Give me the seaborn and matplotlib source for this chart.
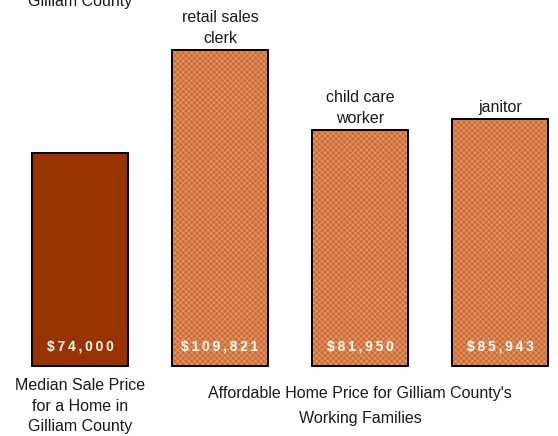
import matplotlib
matplotlib.use("Agg")
import matplotlib.pyplot as plt
from matplotlib.patches import Rectangle
import seaborn as sns
import pandas as pd

# datos del grafico
categorias = ["Median Sale Price", "retail sales clerk", "child care worker", "janitor"]
valores = [74000, 109821, 81950, 85943]
etiquetas_arriba = ["", "retail sales\nclerk", "child care\nworker", "janitor"]
texto_mediana = "Median Sale Price\nfor a Home in\nGilliam County"
texto_familias = "Affordable Home Price for Gilliam County's\nWorking Families"
texto_cortado = "Gilliam County"

colores = ["#993300", "#CF6D38", "#CF6D38", "#CF6D38"]

sns.set_style("white")
plt.rcParams["font.family"] = ["Liberation Sans", "DejaVu Sans"]
plt.rcParams["hatch.linewidth"] = 0.5
plt.rcParams["text.color"] = "#1a1a1a"

df = pd.DataFrame({"cat": categorias, "val": valores})

fig = plt.figure(figsize=(5.58, 4.36), dpi=100)
ax = fig.add_axes([0, 0, 1, 1])

sns.barplot(data=df, x="cat", y="val", hue="cat", palette=colores,
            width=0.68, legend=False, linewidth=0, saturation=1, ax=ax)

# trama de puntos en las barras de salario y borde negro
for i, p in enumerate(ax.patches):
    if i > 0:
        p.set_hatch("xxxxxx")
        p.set_edgecolor("#E6A06E")
        p.set_linewidth(0)
    ax.add_patch(Rectangle(p.get_xy(), p.get_width(), p.get_height(),
                           fill=False, ec="black", lw=1.4, zorder=5))

ax.set_xlim(-0.571, 3.414)
ax.set_ylim(-24339, 127260)
ax.axis("off")

# valores en blanco dentro de las barras
for i, v in enumerate(valores):
    txt = "\u2009".join(f"${v:,}")
    ax.annotate(txt, (i, 0), xytext=(0, 20), textcoords="offset pixels",
                ha="center", va="center", color="white", fontsize=10,
                fontweight="bold", zorder=6)

# ocupaciones encima de las barras
for i, (v, lab) in enumerate(zip(valores, etiquetas_arriba)):
    if lab:
        ax.annotate(lab, (i, v), xytext=(0, 4), textcoords="offset pixels",
                    ha="center", va="bottom", fontsize=11.5, linespacing=1.5)

ax.annotate(texto_mediana, (0, 0), xytext=(0, -40), textcoords="offset pixels",
            ha="center", va="center", fontsize=11.5, linespacing=1.48)
ax.annotate(texto_familias, (2, 0), xytext=(0, -40), textcoords="offset pixels",
            ha="center", va="center", fontsize=11.5, linespacing=1.8)

fig.text(80 / 558, 1 - 6 / 436, texto_cortado, ha="center", va="baseline", fontsize=11.5)

fig.savefig("out.png", dpi=100)
